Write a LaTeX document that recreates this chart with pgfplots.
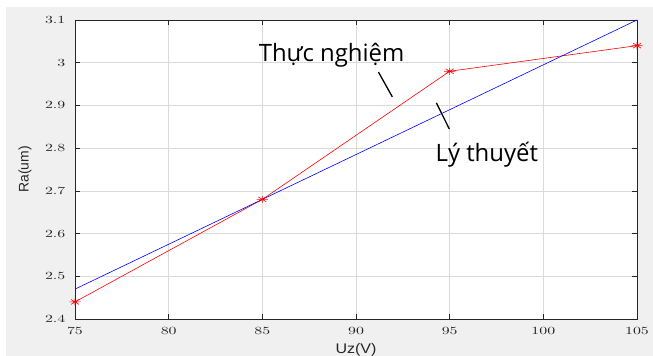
\documentclass[border=0pt]{standalone}
\usepackage{pgfplots}
\pgfplotsset{compat=1.18}
\usepackage{fontspec}
\setmainfont{Liberation Sans}
\newfontfamily\annfont{Open Sans}
\definecolor{bg}{RGB}{240,240,240}
\definecolor{axc}{RGB}{38,38,38}
\definecolor{gridc}{RGB}{218,218,218}
\pgfdeclareplotmark{mstar}{%
 \pgfpathmoveto{\pgfqpoint{-\pgfplotmarksize}{0pt}}\pgfpathlineto{\pgfqpoint{\pgfplotmarksize}{0pt}}%
 \pgfpathmoveto{\pgfqpoint{0pt}{-\pgfplotmarksize}}\pgfpathlineto{\pgfqpoint{0pt}{\pgfplotmarksize}}%
 \pgfpathmoveto{\pgfqpoint{-.707\pgfplotmarksize}{-.707\pgfplotmarksize}}\pgfpathlineto{\pgfqpoint{.707\pgfplotmarksize}{.707\pgfplotmarksize}}%
 \pgfpathmoveto{\pgfqpoint{-.707\pgfplotmarksize}{.707\pgfplotmarksize}}\pgfpathlineto{\pgfqpoint{.707\pgfplotmarksize}{-.707\pgfplotmarksize}}%
 \pgfusepathqstroke}
\begin{document}
\begin{tikzpicture}
\path[use as bounding box] (0,0) rectangle (653bp,356bp);
\fill[white] (0,0) rectangle (653bp,356bp);
\fill[bg] (6bp,0) rectangle (653bp,349bp);
\begin{scope}
\clip (0,0) rectangle (653bp,356bp);
\begin{axis}[
  at={(75bp,37bp)}, anchor=south west,
  scale only axis, width=562bp, height=299bp,
  xmin=75, xmax=105, ymin=2.4, ymax=3.1,
  xtick={75,80,85,90,95,100,105},
  ytick={2.4,2.5,2.6,2.7,2.8,2.9,3.0,3.1},
  axis background/.style={fill=white},
  tick align=inside, xtick pos=both, ytick pos=both,
  major tick length=5bp,
  tick style={axc, line width=0.6bp},
  axis line style={axc, line width=0.8bp},
  grid=major, grid style={gridc, line width=0.6bp},
  ticklabel style={font=\fontsize{11}{13}\selectfont, text=axc},
  xticklabel={\scalebox{1.45}[1]{\pgfmathprintnumber{\tick}}},
  yticklabel={\scalebox{1.45}[1]{\pgfmathprintnumber{\tick}}},
  xticklabel style={anchor=north, inner sep=0pt, yshift=-8.5bp},
  yticklabel style={anchor=east, inner sep=0pt, xshift=-9.5bp},
  xlabel={\scalebox{1.15}[1]{Uz(V)}},
  ylabel={Ra(um)},
  label style={font=\fontsize{14}{16}\selectfont, text=axc, inner sep=0pt},
  xlabel style={at={(axis description cs:0.5,-0.0803)}, anchor=north},
  ylabel style={at={(axis description cs:-0.0888,0.5)}, anchor=center, rotate=0},
]
\addplot[red, line width=0.6bp, mark=mstar, mark size=3.5bp, mark options={xscale=1.6, solid}]
  coordinates {(75,2.44) (85,2.68) (95,2.98) (105,3.04)};
\addplot[blue, line width=0.6bp] coordinates {(75,2.47) (105,3.10)};
\draw[black, line width=1.3bp] (axis cs:91.20,2.978) -- (axis cs:91.94,2.920);
\draw[black, line width=1.3bp] (axis cs:94.29,2.906) -- (axis cs:94.98,2.845);
\node[anchor=base west, inner sep=0pt, font=\annfont\fontsize{24}{29}\selectfont] at (axis cs:84.80,3.002) {Thực nghiệm};
\node[anchor=base west, inner sep=0pt, font=\annfont\fontsize{24}{29}\selectfont] at (axis cs:94.24,2.768) {Lý thuyết};
\end{axis}
\end{scope}
\end{tikzpicture}
\end{document}
